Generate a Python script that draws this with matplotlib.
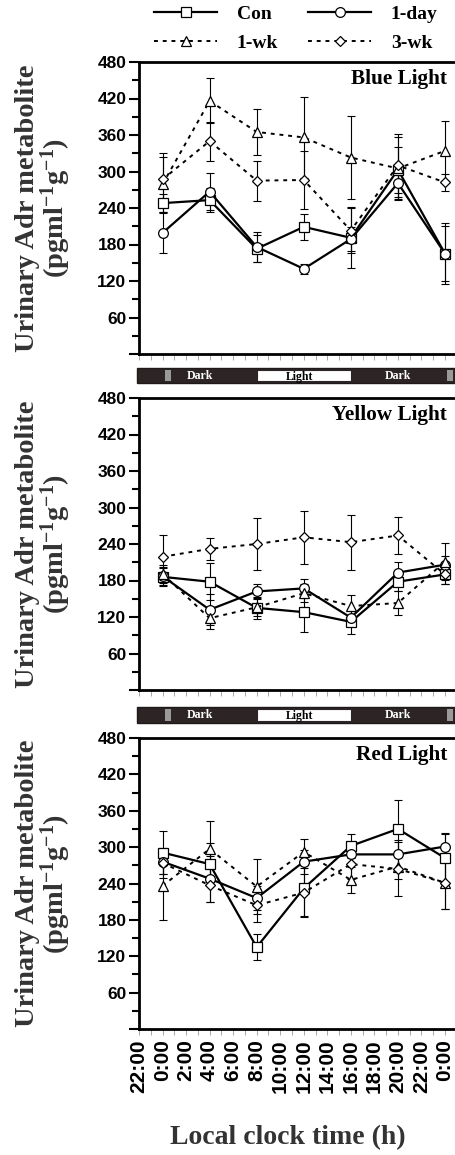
import numpy as np
import matplotlib
matplotlib.use('Agg')
import matplotlib.pyplot as plt
from matplotlib.patches import Rectangle
from matplotlib.ticker import MultipleLocator, FuncFormatter

plt.rcParams['mathtext.fontset'] = 'custom'
plt.rcParams['mathtext.rm'] = 'Liberation Serif:bold'
plt.rcParams['mathtext.default'] = 'rm'

# sampling times (h after midnight), 24 = next 0:00
times = [0, 4, 8, 12, 16, 20, 24]
tick_pos = list(range(-2, 25, 2))
tick_labels = ['22:00', '0:00', '2:00', '4:00', '6:00', '8:00', '10:00', '12:00',
               '14:00', '16:00', '18:00', '20:00', '22:00', '0:00']

# Blue light
blue_con = [248, 253, 173, 209, 191, 303, 165]
blue_con_err = [15, 20, 22, 21, 50, 38, 45]
blue_1day = [199, 267, 176, 140, 189, 281, 165]
blue_1day_err = [33, 30, 25, 8, 20, 28, 50]
blue_1wk = [279, 416, 365, 356, 323, 305, 334]
blue_1wk_err = [45, 37, 38, 66, 68, 51, 49]
blue_3wk = [287, 350, 285, 286, 203, 310, 282]
blue_3wk_err = [43, 32, 33, 48, 37, 52, 14]

# Yellow light
yel_con = [186, 178, 135, 128, 112, 178, 190]
yel_con_err = [15, 30, 18, 33, 20, 15, 15]
yel_1day = [187, 132, 162, 167, 119, 193, 206]
yel_1day_err = [15, 25, 13, 15, 12, 17, 15]
yel_1wk = [191, 118, 136, 159, 138, 143, 211]
yel_1wk_err = [15, 18, 15, 15, 18, 20, 30]
yel_3wk = [219, 232, 240, 251, 243, 254, 190]
yel_3wk_err = [35, 18, 42, 44, 45, 31, 15]

# Red light
red_con = [291, 272, 135, 232, 302, 330, 282]
red_con_err = [35, 35, 21, 45, 20, 47, 40]
red_1day = [276, 248, 216, 276, 288, 288, 301]
red_1day_err = [20, 38, 20, 20, 15, 23, 22]
red_1wk = [236, 297, 235, 292, 246, 268, 241]
red_1wk_err = [57, 46, 45, 21, 21, 20, 43]
red_3wk = [274, 237, 204, 225, 272, 264, 241]
red_3wk_err = [25, 28, 27, 40, 25, 45, 43]

panels = [
    ('Blue Light', [blue_con, blue_1day, blue_1wk, blue_3wk],
     [blue_con_err, blue_1day_err, blue_1wk_err, blue_3wk_err]),
    ('Yellow Light', [yel_con, yel_1day, yel_1wk, yel_3wk],
     [yel_con_err, yel_1day_err, yel_1wk_err, yel_3wk_err]),
    ('Red Light', [red_con, red_1day, red_1wk, red_3wk],
     [red_con_err, red_1day_err, red_1wk_err, red_3wk_err]),
]
names = ['Con', '1-day', '1-wk', '3-wk']
markers = ['s', 'o', '^', 'D']
msizes = [6.5, 7, 7.5, 5.5]
dots = (0, (2, 2.5))
styles = ['-', '-', dots, dots]
widths = [1.6, 1.6, 1.4, 1.4]

W, H = 455, 1155
fig = plt.figure(figsize=(W / 100, H / 100), dpi=100)

left = 139 / W
width = 316 / W
xmax = 24.85
tops = [62, 398, 738]
bots = [354, 690, 1029]

serif = 'Liberation Serif'
sans = 'Liberation Sans'

handles = []
for i, (title, vals, errs) in enumerate(panels):
    ax = fig.add_axes([left, 1 - bots[i] / H, width, (bots[i] - tops[i]) / H])
    for j in range(4):
        ax.errorbar(times, vals[j], yerr=errs[j], fmt='none', ecolor='black',
                    elinewidth=0.8, capsize=3, capthick=0.8, zorder=2)
    for j in range(4):
        ln, = ax.plot(times, vals[j], color='black', linestyle=styles[j],
                      linewidth=widths[j], marker=markers[j], markersize=msizes[j],
                      markerfacecolor='white', markeredgecolor='black',
                      markeredgewidth=0.9, zorder=3, label=names[j])
        if i == 0:
            handles.append(ln)
    ax.set_xlim(-2, xmax)
    ax.set_ylim(0, 480)
    ax.yaxis.set_major_locator(MultipleLocator(60))
    ax.yaxis.set_minor_locator(MultipleLocator(30))
    ax.yaxis.set_major_formatter(FuncFormatter(lambda v, p: '' if v == 0 else '%d' % v))
    ax.set_xticks(tick_pos)
    ax.xaxis.set_minor_locator(MultipleLocator(1))
    ax.spines['right'].set_visible(False)
    for s in ['left', 'bottom', 'top']:
        ax.spines[s].set_linewidth(2)
    ax.tick_params(axis='y', which='major', length=7, width=1.5, pad=2)
    ax.tick_params(axis='y', which='minor', length=5, width=1.5)
    ax.tick_params(axis='x', which='both', length=4, width=0.6, color='#999999')
    for lab in ax.get_yticklabels():
        lab.set_fontfamily(sans)
        lab.set_fontweight('bold')
        lab.set_fontsize(12.5)
    if i == 2:
        ax.set_xticklabels(tick_labels, rotation=90, fontfamily=sans,
                           fontweight='bold', fontsize=15)
    else:
        ax.set_xticklabels([])
    ax.text(0.975, 0.975, title, transform=ax.transAxes, ha='right', va='top',
            fontfamily=serif, fontweight='bold', fontsize=15.3)
    yc = 1 - (tops[i] + bots[i]) / 2 / H
    fig.text(44 / W, yc, 'Urinary Adr metabolite\n(pgml$^{-1}$g$^{-1}$)',
             rotation=90, ha='center', va='center', multialignment='center',
             fontfamily=serif, fontweight='bold', fontsize=20.5, color='#333333',
             linespacing=0.92)

# light/dark bars
for b_top, b_bot in [(368, 383), (707, 723)]:
    axb = fig.add_axes([left, 1 - b_bot / H, width, (b_bot - b_top) / H])
    axb.set_xlim(-2, xmax)
    axb.set_ylim(0, 1)
    axb.axis('off')
    axb.add_patch(Rectangle((-2.2, 0), xmax + 2.2, 1, fc='#2d2525', ec='#1e1a1a',
                            lw=1, clip_on=False))
    axb.add_patch(Rectangle((8, 0.12), 8, 0.76, fc='white', ec='#2d2525', lw=0.8,
                            clip_on=False))
    axb.add_patch(Rectangle((0.2, 0.15), 0.5, 0.7, fc='#9a9a9a', ec='none', clip_on=False))
    axb.add_patch(Rectangle((24.2, 0.15), 0.5, 0.7, fc='#9a9a9a', ec='none', clip_on=False))
    axb.text(3.2, 0.5, 'Dark', ha='center', va='center', color='white',
             fontfamily=serif, fontweight='bold', fontsize=8.5)
    axb.text(11.6, 0.42, 'Light', ha='center', va='center', color='black',
             fontfamily=serif, fontweight='bold', fontsize=8.5)
    axb.text(20, 0.5, 'Dark', ha='center', va='center', color='white',
             fontfamily=serif, fontweight='bold', fontsize=8.5)

fig.text(288 / W, 1 - 1138 / H, 'Local clock time (h)', ha='center', va='center',
         fontfamily=serif, fontweight='bold', fontsize=20, color='#333333')

# legend: row 1 Con / 1-day, row 2 1-wk / 3-wk
order = [0, 2, 1, 3]
leg = fig.legend([handles[k] for k in order], [names[k] for k in order], ncol=2,
                 loc='upper left', bbox_to_anchor=(152 / W, 1 - 3 / H), frameon=False,
                 handlelength=3.25, handletextpad=1.0, columnspacing=1.55,
                 labelspacing=0.6, borderaxespad=0, borderpad=0.1,
                 prop={'family': serif, 'weight': 'bold', 'size': 14})

fig.savefig('out.png', dpi=100)
